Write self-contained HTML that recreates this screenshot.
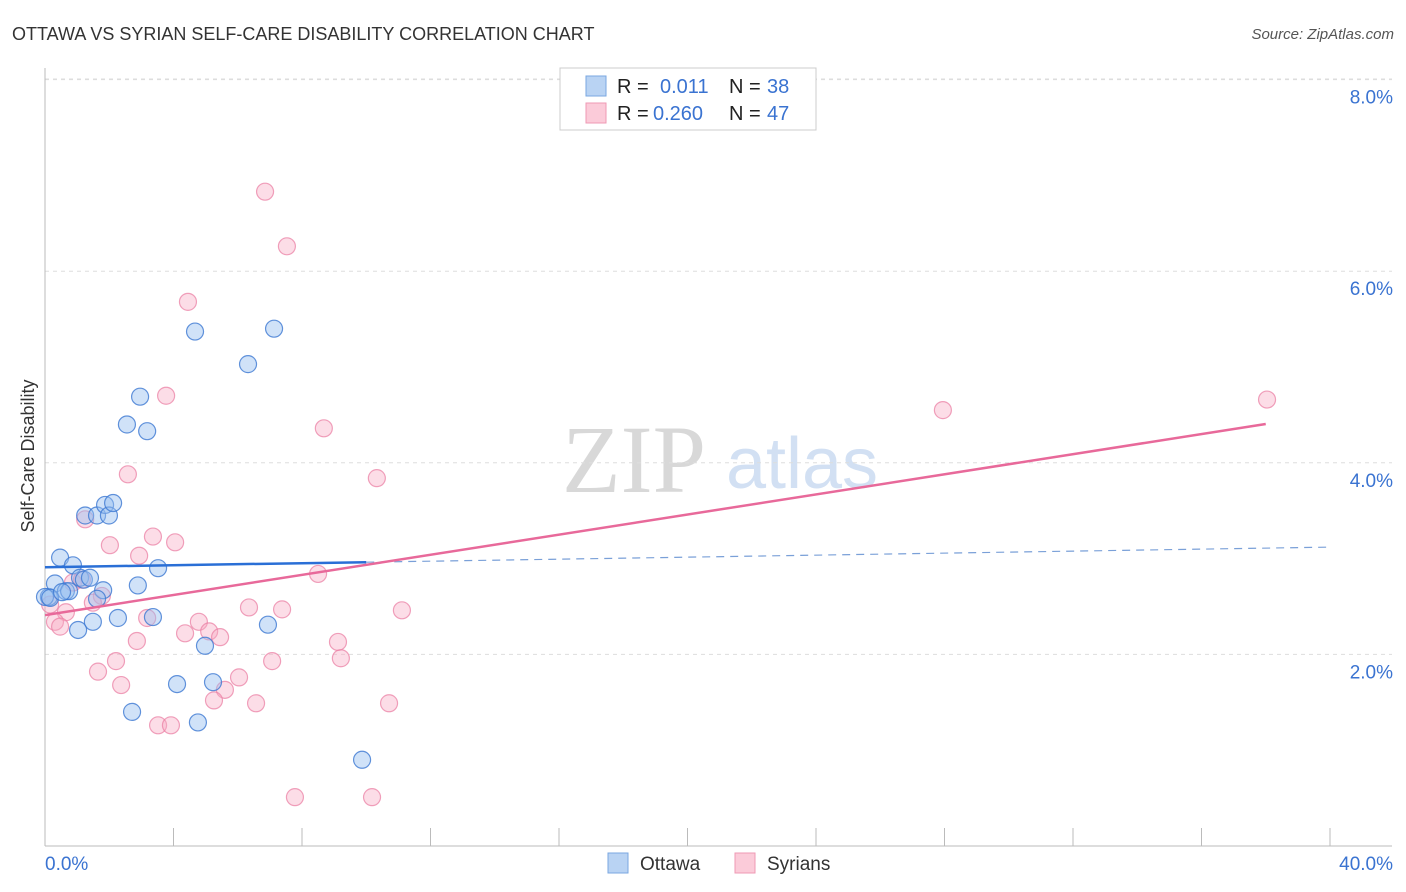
<!DOCTYPE html>
<html><head><meta charset="utf-8"><style>
body{margin:0;background:#fff;font-family:"Liberation Sans",sans-serif;}
svg{display:block}
</style></head><body>
<svg id="chart" width="1406" height="892" xmlns="http://www.w3.org/2000/svg">
<text x="12" y="40" font-size="18" fill="#333">OTTAWA VS SYRIAN SELF-CARE DISABILITY CORRELATION CHART</text>
<text x="1394" y="39" font-size="15" fill="#555" font-style="italic" text-anchor="end">Source: ZipAtlas.com</text>
<g>
<text x="634" y="492" font-size="96" fill="#d8d8d8" font-family="Liberation Serif,serif" text-anchor="middle">ZIP</text>
<text x="802" y="488" font-size="72" fill="#d2e0f3" text-anchor="middle">atlas</text>
</g>
<g id="grid"></g>
<g id="axes"></g>
<g id="marks"></g>
<text x="34" y="456" font-size="18" fill="#333" text-anchor="middle" transform="rotate(-90 34 456)">Self-Care Disability</text>
<g>
<rect x="560" y="68" width="256" height="62" fill="#fff" stroke="#ccc"/>
<g><rect x="586" y="76" width="20" height="20" fill="#b9d3f3" stroke="#7aa7e0"/>
<text x="617" y="93" font-size="20" fill="#222">R = </text><text x="660" y="93" font-size="20" fill="#3a73d1">0.011</text>
<text x="729" y="93" font-size="20" fill="#222">N = </text><text x="767" y="93" font-size="20" fill="#3a73d1">38</text></g>
<g><rect x="586" y="103" width="20" height="20" fill="#fbcbd9" stroke="#ef9ab4"/>
<text x="617" y="120" font-size="20" fill="#222">R = </text><text x="653" y="120" font-size="20" fill="#3a73d1">0.260</text>
<text x="729" y="120" font-size="20" fill="#222">N = </text><text x="767" y="120" font-size="20" fill="#3a73d1">47</text></g>
</g>
<g>
<g><rect x="608" y="853" width="20" height="20" fill="#b9d3f3" stroke="#7aa7e0"/><text x="640" y="870" font-size="19" fill="#333">Ottawa</text></g>
<g><rect x="735" y="853" width="20" height="20" fill="#fbcbd9" stroke="#ef9ab4"/><text x="767" y="870" font-size="19" fill="#333">Syrians</text></g>
</g>
</svg>
<script>
const xTicks=[0,4,8,12,16,20,24,28,32,36,40];
const yTicks=[2,4,6,8];
const yTickLabels=["2.0%","4.0%","6.0%","8.0%"];
const xEndLabels=["0.0%","40.0%"];
const ottawaX=[0.12,0.31,0.47,0.65,0.87,1.09,1.21,1.25,1.49,1.62,1.81,1.87,1.99,2.12,1.03,2.27,2.55,2.71,2.89,2.96,3.18,3.36,3.52,4.11,4.67,4.76,4.98,5.23,6.32,6.94,7.13,9.87,0.0,0.75,0.16,1.62,0.53,1.40];
const ottawaY=[2.60,2.74,3.01,2.66,2.93,2.80,2.78,3.45,2.34,3.45,2.67,3.56,3.45,3.58,2.255,2.38,4.40,1.40,2.72,4.69,4.33,2.39,2.90,1.69,5.37,1.29,2.09,1.71,5.03,2.31,5.40,0.90,2.60,2.66,2.59,2.58,2.65,2.80];
const syrX=[6.85,7.53,4.45,3.77,8.68,27.95,38.04,2.58,10.33,1.25,3.36,4.05,2.02,2.93,8.50,0.87,1.15,1.77,1.49,0.16,0.65,0.31,0.47,6.35,7.38,11.11,3.18,4.79,5.11,4.36,5.45,2.86,9.12,2.21,7.07,9.21,1.65,6.04,2.37,5.60,5.26,6.57,10.71,3.52,3.92,7.78,10.18];
const syrY=[6.83,6.26,5.68,4.70,4.36,4.55,4.66,3.88,3.84,3.41,3.23,3.17,3.14,3.03,2.84,2.75,2.78,2.61,2.54,2.52,2.44,2.34,2.29,2.49,2.47,2.46,2.38,2.34,2.24,2.22,2.18,2.14,2.13,1.93,1.93,1.96,1.82,1.76,1.68,1.63,1.52,1.49,1.49,1.26,1.26,0.51,0.51];
const ottawaTrend=[2.91,3.12];
const ottawaSolidEnd=10;
const syrTrend=[2.41,4.51];

const X0=45,X1=1330,Y0=846,YPER=95.8;
const sx=v=>X0+(X1-X0)*v/40;
const sy=v=>Y0-v*YPER;
const NS="http://www.w3.org/2000/svg";
function mk(tag,attrs,parent){const e=document.createElementNS(NS,tag);for(const k in attrs)e.setAttribute(k,attrs[k]);parent.appendChild(e);return e;}
const gridG=document.getElementById('grid'),axesG=document.getElementById('axes'),marksG=document.getElementById('marks');
yTicks.forEach((t,i)=>{
 const l=mk('line',{x1:X0,x2:1392,y1:sy(t),y2:sy(t),stroke:'#ddd','stroke-dasharray':'4,4'},gridG);
 
 
 const tx=mk('text',{x:1393,y:sy(t)+24,'font-size':19,fill:'#3a73d1','text-anchor':'end'},axesG);
 tx.textContent=yTickLabels[i];
 
 
});
mk('line',{x1:X0,x2:X0,y1:68,y2:Y0,stroke:'#bbb'},axesG);
mk('line',{x1:X0,x2:1392,y1:Y0,y2:Y0,stroke:'#bbb'},axesG);
xTicks.forEach(t=>{
 const l=mk('line',{x1:sx(t),x2:sx(t),y1:828,y2:Y0,stroke:'#bbb'},axesG);
 
 
});
const xl0=mk('text',{x:45,y:870,'font-size':19,fill:'#3a73d1'},axesG);xl0.textContent=xEndLabels[0];


const xl1=mk('text',{x:1393,y:870,'font-size':19,fill:'#3a73d1','text-anchor':'end'},axesG);xl1.textContent=xEndLabels[1];



syrX.forEach((x,i)=>{
 const c=mk('circle',{cx:sx(x),cy:sy(syrY[i]),r:8.5,fill:'rgba(248,170,195,0.4)',stroke:'rgba(235,130,165,0.75)','stroke-width':1.2},marksG);
 
 
});
ottawaX.forEach((x,i)=>{
 const c=mk('circle',{cx:sx(x),cy:sy(ottawaY[i]),r:8.5,fill:'rgba(150,190,240,0.45)',stroke:'rgba(60,120,210,0.8)','stroke-width':1.2},marksG);
 
 
});
const oy=x=>ottawaTrend[0]+(ottawaTrend[1]-ottawaTrend[0])*x/40;
const t1=mk('line',{x1:sx(0),y1:sy(oy(0)),x2:sx(ottawaSolidEnd),y2:sy(oy(ottawaSolidEnd)),stroke:'#2a6fd6','stroke-width':2.5},marksG);


const t2=mk('line',{x1:sx(ottawaSolidEnd),y1:sy(oy(ottawaSolidEnd)),x2:sx(40),y2:sy(oy(40)),stroke:'#7aa0d8','stroke-width':1.2,'stroke-dasharray':'8,6'},marksG);


const t3=mk('line',{x1:sx(0),y1:sy(syrTrend[0]),x2:sx(38),y2:sy(syrTrend[0]+(syrTrend[1]-syrTrend[0])*38/40),stroke:'#e8699a','stroke-width':2.5},marksG);


const topGrid=mk('line',{x1:X0,x2:1392,y1:79,y2:79,stroke:'#ddd','stroke-dasharray':'4,4'},gridG);


</script>
</body></html>
